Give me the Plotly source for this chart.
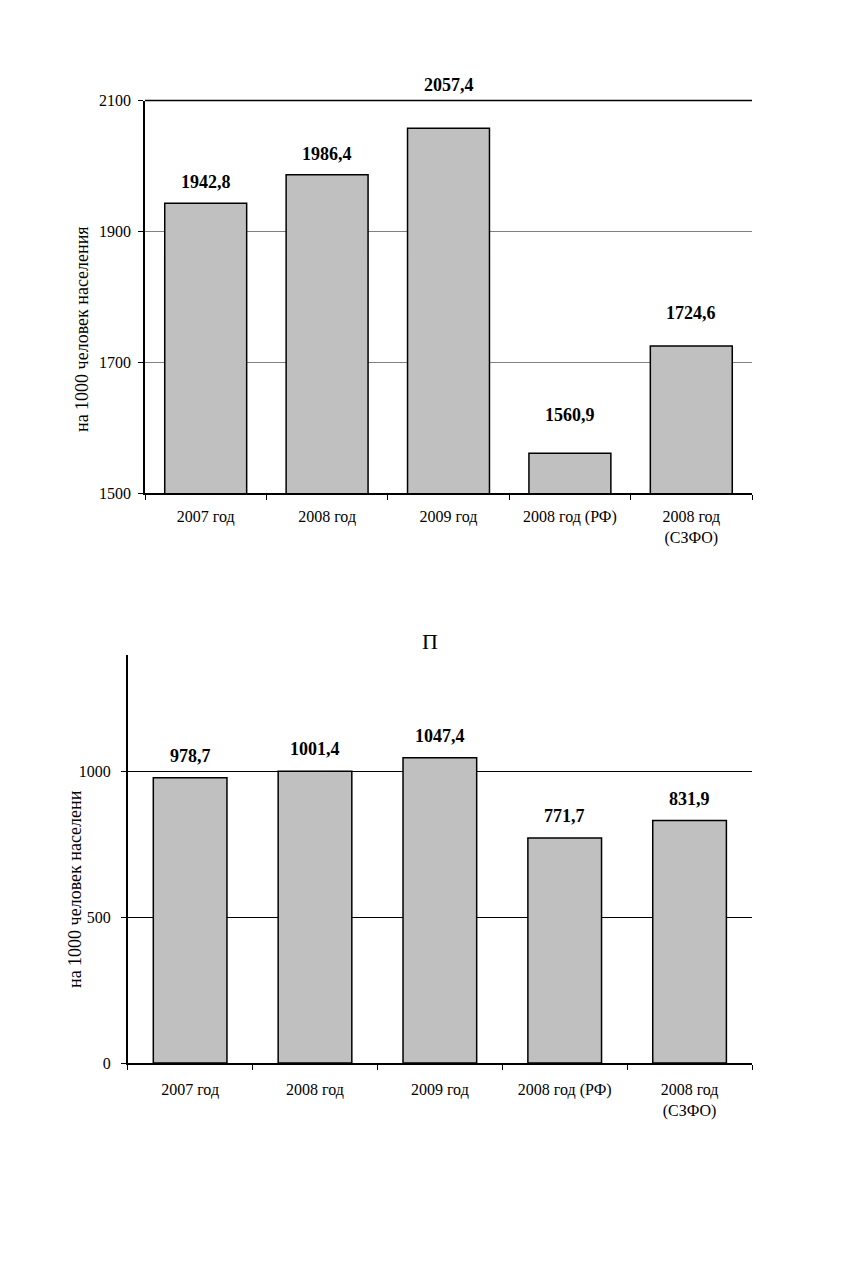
import plotly.graph_objects as go

# Data
categories = ['2007 год', '2008 год', '2009 год', '2008 год (РФ)', '2008 год<br>(СЗФО)']
top_values = [1942.8, 1986.4, 2057.4, 1560.9, 1724.6]
bottom_values = [978.7, 1001.4, 1047.4, 771.7, 831.9]
top_ticks = [1500, 1700, 1900, 2100]
bottom_ticks = [0, 500, 1000]
axis_title_top = 'на 1000 человек населения'
axis_title_bottom = 'на 1000 человек населени'
bottom_title = 'П'

# how far (px) each value label sits above its bar in the top chart
top_label_lift = [21, 21, 43, 38, 33]

W, H = 856, 1268
FONT = 'Liberation Serif, Times New Roman, serif'
BAR_FILL = '#c0c0c0'


def fmt(v):
    return f'{v:.1f}'.replace('.', ',')


fig = go.Figure()

fig.add_trace(go.Bar(
    x=categories, y=top_values, xaxis='x', yaxis='y',
    marker=dict(color=BAR_FILL, line=dict(color='black', width=1.5)),
    showlegend=False, hoverinfo='skip'
))
fig.add_trace(go.Bar(
    x=categories, y=bottom_values, xaxis='x2', yaxis='y2',
    marker=dict(color=BAR_FILL, line=dict(color='black', width=1.5)),
    showlegend=False, hoverinfo='skip', width=0.59
))

# value labels above bars
annotations = []
for c, v, lift in zip(categories, top_values, top_label_lift):
    annotations.append(dict(
        x=c, y=v, xref='x', yref='y', text=f'<b>{fmt(v)}</b>',
        showarrow=False, yanchor='middle', yshift=lift,
        font=dict(family=FONT, size=18, color='black')
    ))
for c, v in zip(categories, bottom_values):
    annotations.append(dict(
        x=c, y=v, xref='x2', yref='y2', text=f'<b>{fmt(v)}</b>',
        showarrow=False, yanchor='middle', yshift=22,
        font=dict(family=FONT, size=18, color='black')
    ))

# y axis titles
annotations.append(dict(
    x=82 / W, y=1 - 329 / H, xref='paper', yref='paper', text=axis_title_top,
    textangle=-90, showarrow=False, xanchor='center', yanchor='middle',
    font=dict(family=FONT, size=18, color='black')
))
annotations.append(dict(
    x=75 / W, y=1 - 889 / H, xref='paper', yref='paper', text=axis_title_bottom,
    textangle=-90, showarrow=False, xanchor='center', yanchor='middle',
    font=dict(family=FONT, size=18, color='black')
))
# bottom chart title
annotations.append(dict(
    x=430 / W, y=1 - 641 / H, xref='paper', yref='paper', text=bottom_title,
    showarrow=False, xanchor='center', yanchor='middle',
    font=dict(family=FONT, size=22, color='black')
))

tickfont = dict(family=FONT, size=16, color='black')

fig.update_layout(
    width=W, height=H,
    margin=dict(l=0, r=0, t=0, b=0, pad=0),
    paper_bgcolor='white', plot_bgcolor='white',
    bargap=0.325,
    annotations=annotations,
    xaxis=dict(
        domain=[145 / W, 752 / W], anchor='y', automargin=False,
        showline=True, linecolor='black', linewidth=1.5,
        ticks='outside', tickson='boundaries', ticklen=5, tickcolor='black',
        tickfont=tickfont, ticklabelstandoff=8, showgrid=False
    ),
    yaxis=dict(
        domain=[1 - 493 / H, 1 - 100.5 / H], anchor='x', automargin=False,
        range=[1500, 2100], tickvals=top_ticks,
        showline=True, linecolor='black', linewidth=1.5,
        ticks='outside', ticklen=5, tickcolor='black',
        tickfont=tickfont, ticklabelstandoff=4,
        showgrid=True, gridcolor='#808080', gridwidth=1, zeroline=False
    ),
    xaxis2=dict(
        domain=[127.7 / W, 752 / W], anchor='y2', automargin=False,
        showline=True, linecolor='black', linewidth=1.5,
        ticks='outside', tickson='boundaries', ticklen=5, tickcolor='black',
        tickfont=tickfont, ticklabelstandoff=11, showgrid=False
    ),
    yaxis2=dict(
        domain=[1 - 1063 / H, 1 - 655 / H], anchor='x2', automargin=False,
        range=[0, 1400], tickvals=bottom_ticks,
        showline=True, linecolor='black', linewidth=1.5,
        ticks='outside', ticklen=5, tickcolor='black',
        tickfont=tickfont, ticklabelstandoff=7,
        showgrid=True, gridcolor='black', gridwidth=1, zeroline=False
    ),
    shapes=[dict(
        type='line', xref='x domain', yref='y domain',
        x0=0, x1=1, y0=1, y1=1, line=dict(color='black', width=1.5)
    )]
)

# drop the default page margin so the figure fills the window exactly
fig.write_html('out.html', config={'displayModeBar': False},
               post_script="document.body.style.margin='0';")
